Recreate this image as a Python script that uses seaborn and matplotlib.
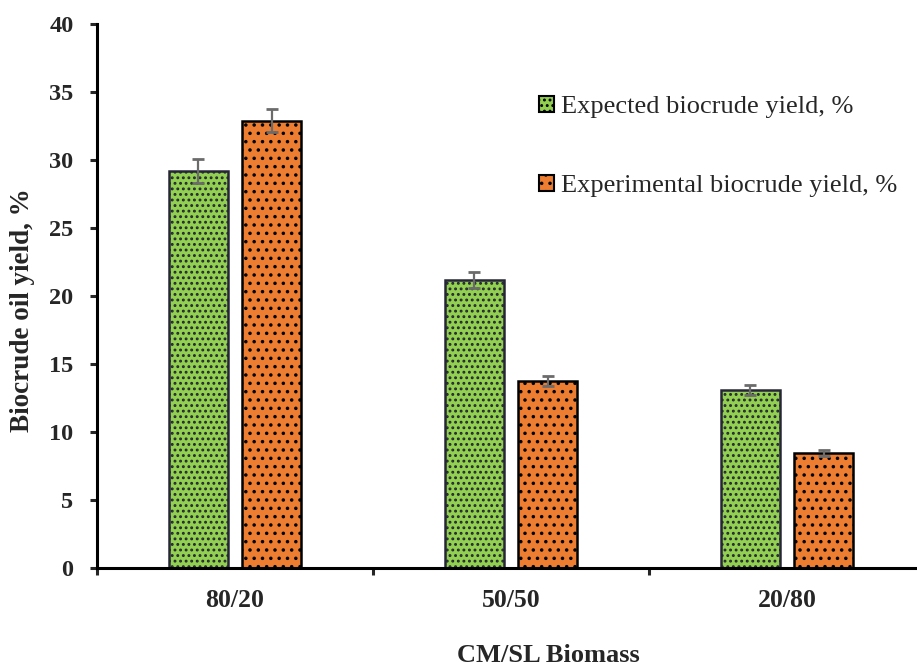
import numpy as np
import pandas as pd
import seaborn as sns
import matplotlib
matplotlib.use("Agg")
import matplotlib.pyplot as plt
from matplotlib.patches import Patch
from matplotlib.container import BarContainer

# Biocrude yields for the three CM/SL blend ratios
blends = ["80/20", "50/50", "20/80"]
expected = [29.2, 21.2, 13.1]
expected_err = [0.88, 0.6, 0.35]
experimental = [32.9, 13.75, 8.45]
experimental_err = [0.82, 0.37, 0.2]
series_names = ["Expected biocrude yield, %", "Experimental biocrude yield, %"]

colors = ["#92D050", "#ED7D31"]
hatch_colors = ["#262638", "#000000"]
hatches = ["...", ".."]

sns.set_theme(style="white")
plt.rcParams["font.family"] = ["Liberation Serif", "DejaVu Serif"]
plt.rcParams["hatch.linewidth"] = 1.3

df = pd.DataFrame({
    "blend": blends * 2,
    "yield": expected + experimental,
    "series": [series_names[0]] * 3 + [series_names[1]] * 3,
})

fig = plt.figure(figsize=(9.17, 6.65), dpi=100)
ax = fig.add_axes([97 / 917, 97 / 665, 828 / 917, 544 / 665])

sns.barplot(data=df, x="blend", y="yield", hue="series", order=blends,
            hue_order=series_names, palette=colors, width=0.53, gap=0.2,
            errorbar=None, legend=False, ax=ax, saturation=1)

errs = [expected_err, experimental_err]
vals = [expected, experimental]
bar_groups = [c for c in ax.containers if isinstance(c, BarContainer)]
for k, cont in enumerate(bar_groups):
    xs = []
    for p in cont.patches:
        p.set_hatch(hatches[k])
        p.set_edgecolor(hatch_colors[k])
        p.set_linewidth(1.8)
        xs.append(p.get_x() + p.get_width() / 2)
    ax.errorbar(xs, vals[k], yerr=errs[k], fmt="none", ecolor="#6b6b6b",
                elinewidth=1.6, capsize=4.3, capthick=2.0, zorder=5)

ax.set_xlim(-0.5, 2.5)
ax.set_ylim(0, 40)
ax.set_yticks(np.arange(0, 41, 5))
ax.set_xticks([-0.5, 0.5, 1.5, 2.5], minor=False)
ax.set_xticks(range(3), minor=True)
ax.set_xticklabels([], minor=False)
ax.set_xticklabels(blends, minor=True)

for s in ["top", "right"]:
    ax.spines[s].set_visible(False)
for s in ["left", "bottom"]:
    ax.spines[s].set_linewidth(2.2)
    ax.spines[s].set_color("black")

ax.tick_params(axis="y", which="major", direction="out", length=5, width=2.2,
               pad=12, labelsize=17.5, left=True)
ax.tick_params(axis="x", which="major", direction="out", length=5, width=2.2,
               bottom=True)
ax.tick_params(axis="x", which="minor", length=0, pad=15, labelsize=18.5)
for lab in ax.get_yticklabels() + ax.get_xticklabels(minor=True):
    lab.set_fontweight("bold")

ax.set_xlabel("")
ax.set_ylabel("")
fig.text(548 / 917, 1 - 655 / 665, "CM/SL Biomass", ha="center", va="center",
         fontsize=19, fontweight="bold")
fig.text(23 / 917, 1 - 310 / 665, "Biocrude oil yield, %", ha="center",
         va="center", rotation=90, fontsize=19.5, fontweight="bold")

handles = [Patch(facecolor=colors[k], edgecolor="black", hatch=hatches[k],
                 linewidth=1.5, label=series_names[k]) for k in range(2)]
fig.legend(handles=handles, loc="upper left",
           bbox_to_anchor=(539 / 917, 1 - 96 / 665), frameon=False,
           fontsize=19, handlelength=0.55, handleheight=0.55,
           handletextpad=0.3, labelspacing=2.15, borderaxespad=0,
           borderpad=0)

fig.savefig("out.png", dpi=100)
